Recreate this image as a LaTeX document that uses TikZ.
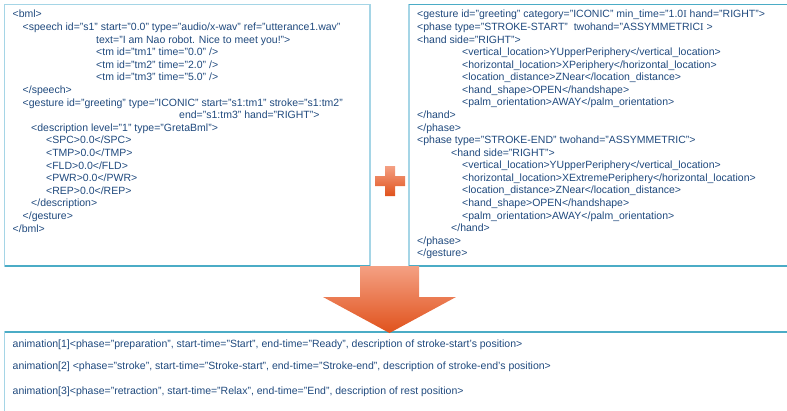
\documentclass[tikz,border=0pt]{standalone}
\usepackage{fontspec}
\setmainfont{Liberation Sans}
\newfontfamily\serifI{Liberation Serif}
\definecolor{txtc}{HTML}{1F497D}
\definecolor{boxc}{HTML}{A5D5E6}
\definecolor{boxd}{HTML}{4BACC6}
\definecolor{orl}{HTML}{F4A083}
\definecolor{ord}{HTML}{E0521C}
\begin{document}
\begin{tikzpicture}[x=1pt,y=-1pt,
  txt/.style={anchor=base west, inner sep=0pt, font=\fontsize{10.5}{12}\selectfont, text=txtc},
  boxline/.style={draw=boxc, line width=1.2pt},
  boxedge/.style={draw=boxd, line width=1.2pt}]
\useasboundingbox (0,0) rectangle (787,410);
% boxes
\draw[boxline] (4.5,4.5) rectangle (370,266);
\draw[boxedge] (4.5,266) -- (370,266);
\draw[boxline] (409,4.5) rectangle (800,266);
\draw[boxedge] (409,4.5) -- (800,4.5);
\draw[boxedge] (409,266) -- (800,266);
\draw[boxline] (4.5,332) rectangle (800,420);
\draw[boxedge] (4.5,332) -- (800,332);
% left text
\node[txt] (l1) at (12.5,17.8) {<bml>};
\node[txt] (l2) at (22.5,30.4) {<speech id="s1" start="0.0" type="audio/x-wav" ref="utterance1.wav"};
\node[txt] (l3) at (96,43) {text="I am Nao robot. Nice to meet you!">};
\node[txt] (l4) at (96,55.6) {<tm id="tm1" time="0.0" />};
\node[txt] (l5) at (96,68.2) {<tm id="tm2" time="2.0" />};
\node[txt] (l6) at (96,80.8) {<tm id="tm3" time="5.0" />};
\node[txt] (l7) at (22.5,93.4) {</speech>};
\node[txt] (l8) at (22.5,106) {<gesture id="greeting" type="ICONIC" start="s1:tm1" stroke="s1:tm2"};
\node[txt] (l9) at (179,118.6) {end="s1:tm3" hand="RIGHT">};
\node[txt] (l10) at (31,131.2) {<description level="1" type="GretaBml">};
\node[txt] (l11) at (46,143.8) {<SPC>0.0</SPC>};
\node[txt] (l12) at (46,156.4) {<TMP>0.0</TMP>};
\node[txt] (l13) at (46,169) {<FLD>0.0</FLD>};
\node[txt] (l14) at (46,181.6) {<PWR>0.0</PWR>};
\node[txt] (l15) at (46,194.2) {<REP>0.0</REP>};
\node[txt] (l16) at (31,206.8) {</description>};
\node[txt] (l17) at (22.5,219.4) {</gesture>};
\node[txt] (l18) at (12.5,232) {</bml>};
% right text
\node[txt] (r1) at (417,17.8) {<gesture id="greeting" category="ICONIC" min\_time="1.0{\serifI I} hand="RIGHT">};
\node[txt] (r2) at (417,30.4) {<phase type="STROKE-START" \ twohand="ASSYMMETRIC{\serifI I} >};
\node[txt] (r3) at (417,43) {<hand side="RIGHT">};
\node[txt] (r4) at (462,55.5) {<vertical\_location>YUpperPeriphery</vertical\_location>};
\node[txt] (r5) at (462,68.1) {<horizontal\_location>XPeriphery</horizontal\_location>};
\node[txt] (r6) at (462,80.7) {<location\_distance>ZNear</location\_distance>};
\node[txt] (r7) at (462,93.3) {<hand\_shape>OPEN</handshape>};
\node[txt] (r8) at (462,105.9) {<palm\_orientation>AWAY</palm\_orientation>};
\node[txt] (r9) at (417,118.4) {</hand>};
\node[txt] (r10) at (417,131) {</phase>};
\node[txt] (r11) at (417,143.6) {<phase type="STROKE-END" twohand="ASSYMMETRIC">};
\node[txt] (r12) at (451,156.2) {<hand side="RIGHT">};
\node[txt] (r13) at (462,168.8) {<vertical\_location>YUpperPeriphery</vertical\_location>};
\node[txt] (r14) at (462,181.3) {<horizontal\_location>XExtremePeriphery</horizontal\_location>};
\node[txt] (r15) at (462,193.9) {<location\_distance>ZNear</location\_distance>};
\node[txt] (r16) at (462,206.5) {<hand\_shape>OPEN</handshape>};
\node[txt] (r17) at (462,219.1) {<palm\_orientation>AWAY</palm\_orientation>};
\node[txt] (r18) at (451,231.7) {</hand>};
\node[txt] (r19) at (417,244.2) {</phase>};
\node[txt] (r20) at (417,256.8) {</gesture>};
% bottom text
\node[txt] (b1) at (12.5,347.1) {animation[1]<phase="preparation", start-time="Start", end-time="Ready", description of stroke-start's position>};
\node[txt] (b2) at (12.5,369.5) {animation[2] <phase="stroke", start-time="Stroke-start", end-time="Stroke-end", description of stroke-end's position>};
\node[txt] (b3) at (12.5,394.5) {animation[3]<phase="retraction", start-time="Relax", end-time="End", description of rest position>};
% plus sign
\shade[top color=orl, bottom color=ord]
  (385,166) -- (395,166) -- (395,176) -- (405,176) -- (405,186) -- (395,186)
  -- (395,196) -- (385,196) -- (385,186) -- (375,186) -- (375,176) -- (385,176) -- cycle;
% down arrow
\shade[top color=orl, bottom color=ord]
  (360,266) -- (419,266) -- (419,297) -- (456,297) -- (389.5,333)
  -- (323,297) -- (360,297) -- cycle;
\end{tikzpicture}
\end{document}
